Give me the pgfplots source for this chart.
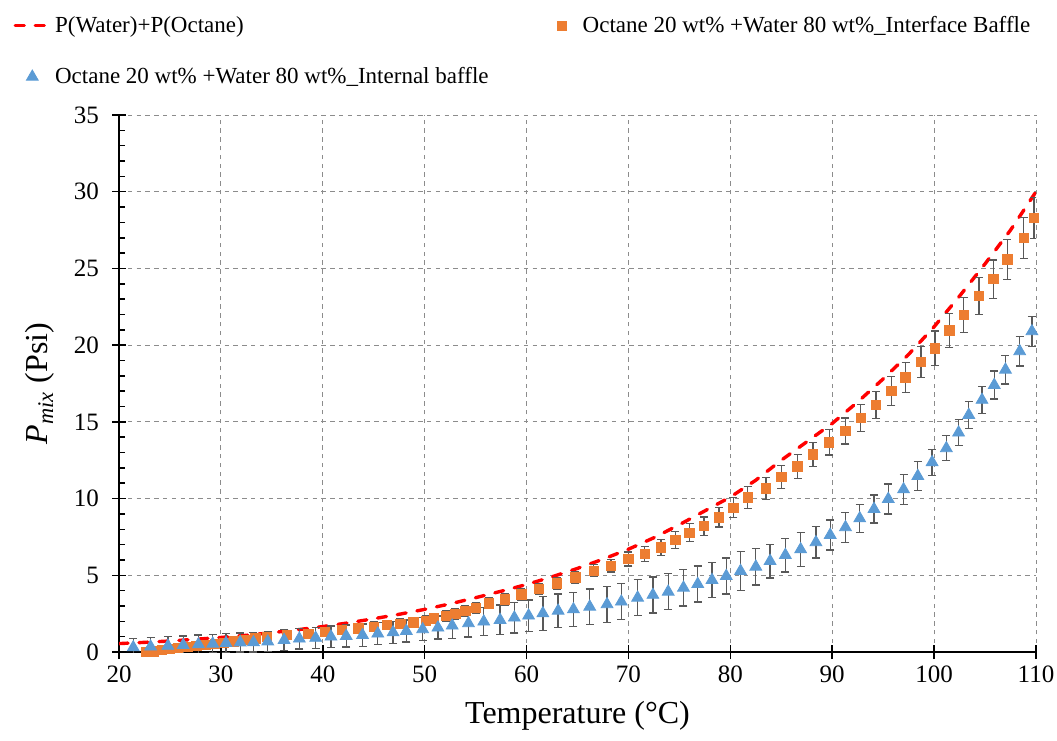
\documentclass[border=0pt]{standalone}
\usepackage{fontspec}
\setmainfont{Liberation Serif}
\usepackage{pgfplots}
\usepackage{pgfplotstable}
\pgfplotsset{compat=1.18}

\definecolor{sumred}{HTML}{FF0000}
\definecolor{ifcorange}{HTML}{ED7D31}
\definecolor{intblue}{HTML}{5B9BD5}
\definecolor{errgray}{HTML}{595959}
\definecolor{gridgray}{HTML}{8C8C8C}

% P(Water)+P(Octane)
\pgfplotstableread{
T P
20 0.55
22.5 0.63
25 0.72
27.5 0.83
30 0.95
32.5 1.09
35 1.26
37.5 1.45
40 1.66
42.5 1.90
45 2.17
47.5 2.46
50 2.78
52.5 3.14
55 3.54
57.5 3.96
60 4.40
62.5 4.90
65 5.45
67.5 6.05
70 6.70
72.5 7.45
75 8.30
77.5 9.20
80 10.10
82.5 11.20
85 12.50
87.5 13.70
90 14.90
92.5 16.30
95 17.80
97.5 19.40
100 21.20
102.5 23.20
105 25.30
107.5 27.50
110 30.00
}\sumdata

% Octane 20 wt% + Water 80 wt%, interface baffle
\pgfplotstableread{
T P E
22.7 0.00 0.25
23.4 0.05 0.25
24.2 0.12 0.25
25.0 0.20 0.25
25.8 0.27 0.25
26.7 0.33 0.25
27.6 0.40 0.25
28.5 0.46 0.25
29.4 0.52 0.25
30.3 0.60 0.25
31.3 0.68 0.25
32.3 0.78 0.25
33.4 0.88 0.25
34.5 1.00 0.28
36.5 1.10 0.30
38.6 1.17 0.30
40.2 1.32 0.30
41.9 1.43 0.30
43.5 1.54 0.30
45.0 1.65 0.30
46.3 1.76 0.30
47.6 1.85 0.32
48.9 1.94 0.33
50.1 2.04 0.33
50.9 2.19 0.33
52.1 2.35 0.33
53.0 2.48 0.33
54.0 2.67 0.33
55.0 2.89 0.34
56.3 3.17 0.35
57.9 3.43 0.36
59.5 3.76 0.36
61.2 4.10 0.37
63.0 4.48 0.38
64.8 4.87 0.40
66.6 5.30 0.40
68.3 5.63 0.42
70.0 6.06 0.45
71.6 6.39 0.50
73.2 6.82 0.52
74.6 7.30 0.55
76.0 7.78 0.58
77.4 8.21 0.60
78.9 8.78 0.63
80.3 9.41 0.66
81.7 10.07 0.70
83.5 10.67 0.72
85.0 11.40 0.75
86.6 12.10 0.78
88.1 12.87 0.80
89.7 13.67 0.82
91.3 14.40 0.85
92.8 15.25 0.88
94.3 16.10 0.90
95.8 17.00 0.95
97.2 17.90 0.98
98.7 18.90 1.02
100.1 19.80 1.12
101.5 20.95 1.12
102.9 21.97 1.15
104.4 23.20 1.20
105.8 24.30 1.25
107.2 25.60 1.30
108.8 27.00 1.33
109.8 28.30 1.33
}\ifcdata

% Octane 20 wt% + Water 80 wt%, internal baffle
\pgfplotstableread{
T P E
21.4 0.30 0.60
23.1 0.35 0.60
24.8 0.40 0.60
26.3 0.45 0.60
27.8 0.50 0.60
29.2 0.54 0.60
30.5 0.58 0.62
31.9 0.62 0.62
33.2 0.63 0.62
34.6 0.68 0.65
36.2 0.78 0.67
37.7 0.87 0.68
39.3 0.92 0.70
40.8 1.00 0.70
42.3 1.04 0.72
43.9 1.10 0.72
45.4 1.20 0.73
46.9 1.28 0.73
48.2 1.37 0.72
49.8 1.48 0.75
51.3 1.59 0.75
52.7 1.72 0.82
54.3 1.87 0.90
55.8 1.98 0.92
57.4 2.09 0.97
58.8 2.24 1.00
60.2 2.37 1.03
61.6 2.52 1.10
63.1 2.69 1.10
64.6 2.78 1.12
66.2 2.95 1.15
67.9 3.11 1.17
69.3 3.28 1.17
70.9 3.54 1.17
72.4 3.72 1.17
73.9 3.93 1.17
75.4 4.19 1.20
76.8 4.43 1.17
78.2 4.69 1.15
79.6 4.95 1.17
81.0 5.28 1.25
82.5 5.56 1.20
83.9 5.93 1.10
85.4 6.32 1.10
86.9 6.69 1.10
88.4 7.15 1.03
89.8 7.63 0.98
91.3 8.13 0.98
92.7 8.71 0.91
94.1 9.32 0.91
95.5 9.97 0.98
97.0 10.60 0.98
98.4 11.47 0.94
99.8 12.37 0.85
101.2 13.28 0.82
102.4 14.30 0.85
103.4 15.45 0.88
104.7 16.43 0.89
105.9 17.40 0.91
107.0 18.40 0.94
108.4 19.60 0.96
109.6 20.90 0.98
}\intdata

% marker-only legend image, padded to the width of a line image
\pgfplotsset{padded mark legend/.style={
  legend image code/.code={
    \path[draw=none, fill=none] (0cm,0cm) (0.6cm,0cm);
    \draw[mark repeat=2, mark phase=2, ##1] plot coordinates {(0cm,0cm) (0.3cm,0cm) (0.6cm,0cm)};
  }}}

\begin{document}
\begin{tikzpicture}
\begin{axis}[
  scale only axis,
  width=458.5pt, height=268.5pt,
  xmin=20, xmax=110, ymin=0, ymax=35,
  xtick={20,30,...,110},
  ytick={0,5,...,35},
  minor y tick num=4,
  axis x line*=bottom,
  axis y line*=left,
  axis line style={black, line width=0.75pt},
  tick align=center,
  major tick length=7pt,
  minor tick length=3pt,
  every tick/.style={black, line width=0.75pt},
  every minor y tick/.append style={xshift=1.5pt},
  grid=major,
  major grid style={gridgray, line width=0.5pt, dash pattern=on 2.2pt off 2.2pt},
  ticklabel style={font=\fontsize{12.5}{15}\selectfont},
  yticklabel style={xshift=-3pt},
  /pgf/number format/assume math mode=true,
  every axis x label/.style={at={(rel axis cs:0.5,-0.119)}, anchor=center},
  every axis y label/.style={at={(rel axis cs:-0.086,0.5)}, rotate=90, anchor=center},
  xlabel={Temperature (°C)},
  ylabel={\textit{P}\textsubscript{\textit{mix}} (Psi)},
  label style={font=\fontsize{16}{19}\selectfont},
  legend columns=2,
  legend cell align=left,
  legend style={draw=none, fill=none, at={(-0.122,1.2)}, anchor=north west,
    font=\fontsize{11.5}{13.5}\selectfont,
    /tikz/every even column/.append style={column sep=26pt},
    row sep=12pt},
]
\addplot[sumred, line width=1.7pt, line cap=round, dash pattern=on 4.5pt off 5.5pt]
  table[x=T, y=P]{\sumdata};
\addlegendentry{P(Water)+P(Octane)}

\addplot[only marks, mark=square*, mark size=2.35pt, padded mark legend,
  mark options={draw=ifcorange, fill=ifcorange},
  error bars/.cd, y dir=both, y explicit,
  error bar style={errgray, line width=0.65pt},
  error mark options={rotate=90, errgray, line width=0.65pt, mark size=2pt}]
  table[x=T, y=P, y error=E]{\ifcdata};
\addlegendentry{Octane 20 wt\% +Water 80 wt\%\_Interface Baffle}

\addplot[only marks, mark=triangle*, mark size=3.4pt, padded mark legend,
  mark options={draw=intblue, fill=intblue},
  error bars/.cd, y dir=both, y explicit,
  error bar style={errgray, line width=0.65pt},
  error mark options={rotate=90, errgray, line width=0.65pt, mark size=2pt}]
  table[x=T, y=P, y error=E]{\intdata};
\addlegendentry{Octane 20 wt\% +Water 80 wt\%\_Internal baffle}
\end{axis}
\pgfresetboundingbox
\path[use as bounding box] ([shift={(-59.5pt,-44pt)}]current axis.south west)
  rectangle ([shift={(10.5pt,57.5pt)}]current axis.north east);
\end{tikzpicture}
\end{document}
